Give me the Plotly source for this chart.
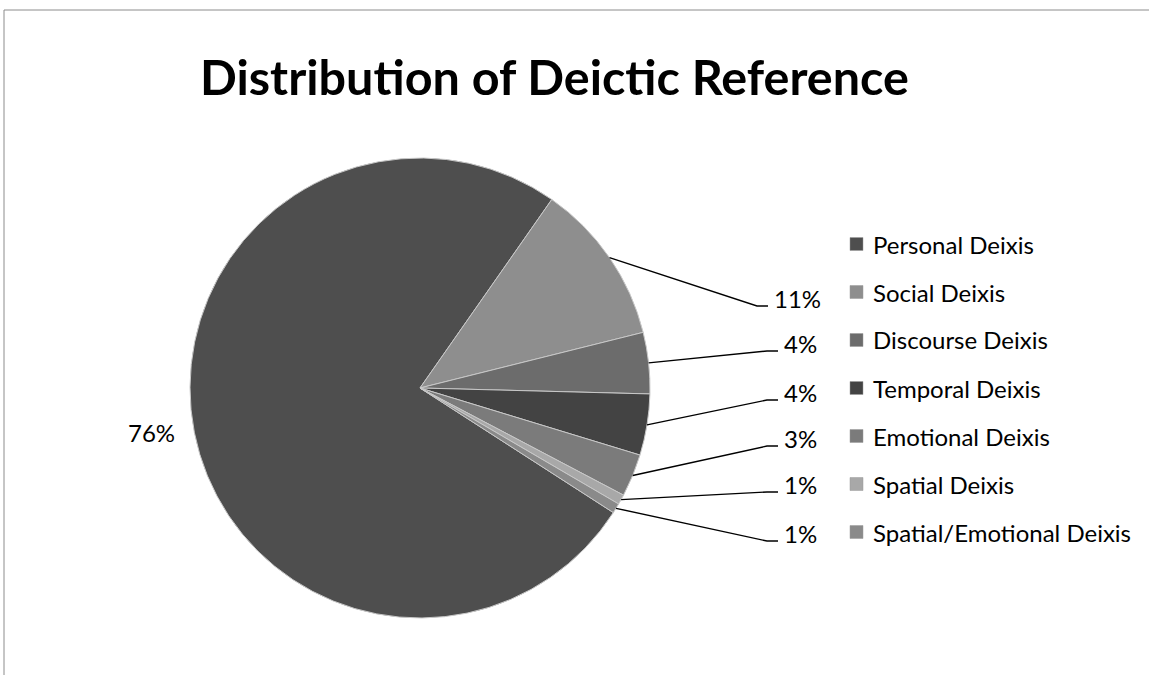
import math
import plotly.graph_objects as go

# ---- data ----
categories = ["Personal Deixis", "Social Deixis", "Discourse Deixis", "Temporal Deixis",
              "Emotional Deixis", "Spatial Deixis", "Spatial/Emotional Deixis"]
shares = [75.6, 11.4, 4.3, 4.3, 3.0, 0.7, 0.7]
colors = ["#4e4e4e", "#8e8e8e", "#6c6c6c", "#434343", "#7b7b7b", "#a8a8a8", "#8a8a8a"]

# ---- layout constants ----
W, H = 1149, 675
CX, CY, R = 420, 388, 230          # pie centre / radius in px
ROTATION = 122.8                    # start angle of first slice (clockwise from 12 o'clock)
FONT = "Lato"

def px(x):
    return x / W

def py(y):
    return 1 - y / H

fig = go.Figure()
fig.add_trace(go.Pie(
    labels=categories,
    values=shares,
    sort=False,
    direction="clockwise",
    rotation=ROTATION,
    textinfo="none",
    hoverinfo="label+percent",
    marker=dict(colors=colors, line=dict(color="#c8c8c8", width=1)),
    domain=dict(x=[px(CX - R), px(CX + R)], y=[py(CY + R), py(CY - R)]),
    showlegend=False,
))

annotations = []
shapes = []

# frame
shapes.append(dict(type="rect", xref="paper", yref="paper",
                   x0=px(4), x1=1.05, y0=-0.05, y1=py(10),
                   line=dict(color="#8c8c8c", width=1), fillcolor="rgba(0,0,0,0)"))

# title
annotations.append(dict(text="<b>Distribution of Deictic Reference</b>", x=px(554), y=py(76),
                        xref="paper", yref="paper", showarrow=False,
                        font=dict(family=FONT, size=48.5, color="#000000"),
                        xanchor="center", yanchor="middle"))

# data labels with leader lines (angles derived from the data)
total = sum(shares)
label_x_end = [None, 768, 778, 778, 778, 778, 778]   # leader line end (px)
label_y = [None, 298, 343, 392, 438, 484, 533]        # label text centre (px)
acc = 0.0
for i, v in enumerate(shares):
    a0 = ROTATION + acc / total * 360
    acc += v
    a1 = ROTATION + acc / total * 360
    mid = math.radians((a0 + a1) / 2)
    ex = CX + R * math.sin(mid)
    ey = CY - R * math.cos(mid)
    txt = f"{round(v / total * 100)}%"
    if i == 0:
        lx = CX + (R + 18) * math.sin(mid)
        ly = CY - (R + 18) * math.cos(mid)
        annotations.append(dict(text=txt, x=px(lx), y=py(ly - 3), xref="paper", yref="paper",
                                showarrow=False, xanchor="right", yanchor="middle",
                                font=dict(family=FONT, size=24, color="#000000")))
        continue
    xe, yl = label_x_end[i], label_y[i]
    yline = yl + 8
    path = f"M {px(ex)},{py(ey)} L {px(xe - 11)},{py(yline)} L {px(xe)},{py(yline)}"
    shapes.append(dict(type="path", xref="paper", yref="paper", path=path,
                       line=dict(color="#000000", width=1.4)))
    annotations.append(dict(text=txt, x=px(xe + 4), y=py(yl), xref="paper", yref="paper",
                            showarrow=False, xanchor="left", yanchor="middle",
                            font=dict(family=FONT, size=24, color="#000000")))

# legend (manual, to reproduce Excel spacing)
LEG_X, LEG_Y0, LEG_DY, SQ = 850, 244, 48, 13
for i, (cat, col) in enumerate(zip(categories, colors)):
    yc = LEG_Y0 + i * LEG_DY
    shapes.append(dict(type="rect", xref="paper", yref="paper",
                       x0=px(LEG_X), x1=px(LEG_X + SQ), y0=py(yc + SQ / 2), y1=py(yc - SQ / 2),
                       fillcolor=col, line=dict(color="#9a9a9a", width=0.5)))
    annotations.append(dict(text=cat, x=px(LEG_X + SQ + 8), y=py(yc), xref="paper", yref="paper",
                            showarrow=False, xanchor="left", yanchor="middle",
                            font=dict(family=FONT, size=24, color="#000000")))

fig.update_layout(
    width=W, height=H,
    margin=dict(l=0, r=0, t=0, b=0),
    paper_bgcolor="#ffffff",
    plot_bgcolor="#ffffff",
    annotations=annotations,
    shapes=shapes,
)

fig.write_html("out.html")
